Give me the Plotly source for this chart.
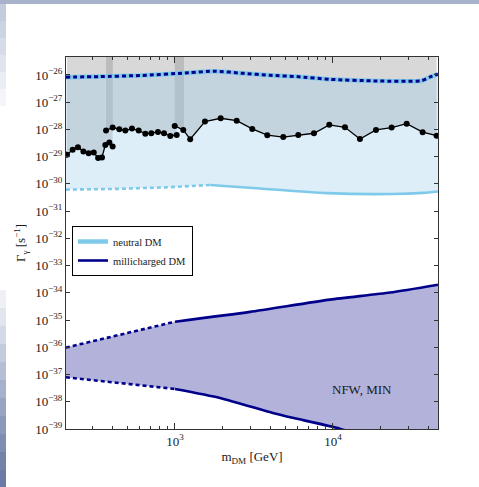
import numpy as np
import plotly.graph_objects as go

# ---------------- data (masses in GeV, rates as log10 Gamma [s^-1]) ----------------
neutral_up_mass = [204, 330, 600, 1220, 1790, 2700, 4000, 5900, 9600, 19000, 36500, 41000, 46200]
neutral_up_logG = [-26.08, -26.06, -26.02, -25.92, -25.86, -25.94, -26.01, -26.06, -26.16, -26.22, -26.21, -26.08, -25.97]

neutral_lo_mass = [204, 449, 930, 1670, 3450, 9160, 24000, 37150, 46200]
neutral_lo_logG = [-30.21, -30.18, -30.12, -30.04, -30.17, -30.34, -30.37, -30.33, -30.28]
neutral_break = 1670

milli_up_mass = [204, 1000, 2983, 9570, 22960, 46200]
milli_up_logG = [-36.01, -35.06, -34.70, -34.25, -33.99, -33.70]
milli_lo_mass = [204, 1000, 1927, 4168, 5580, 11060, 22960, 46200]
milli_lo_logG = [-37.10, -37.53, -37.86, -38.41, -38.59, -38.99, -39.6, -40.2]
milli_break = 1000

seg1_mass = [207, 225, 243, 263, 284, 306, 326, 345, 362, 384, 403]
seg1_logG = [-28.93, -28.75, -28.65, -28.81, -28.87, -28.85, -29.05, -29.03, -28.57, -28.48, -28.63]

seg2_mass = [366, 403, 444, 485, 534, 589, 649, 708, 780, 852, 934, 1025]
seg2_logG = [-28.04, -27.93, -27.99, -28.04, -27.97, -28.04, -28.16, -28.14, -28.09, -28.14, -28.24, -28.20]

seg3_mass = [996, 1128, 1248, 1548, 1946, 2458, 3084, 3839, 4846, 6031, 7581, 9475,
             11910, 14820, 18720, 23520, 29280, 36960, 45320]
seg3_logG = [-27.87, -28.02, -28.36, -27.71, -27.59, -27.68, -27.98, -28.21, -28.28, -28.20,
             -28.14, -27.83, -27.92, -28.35, -28.02, -27.93, -27.79, -28.10, -28.23]

band_lo = [366, 996]
band_hi = [404, 1140]

x_tick_vals = [1e3, 1e4]
x_tick_text = ["10<sup>3</sup>", "10<sup>4</sup>"]
x_minor_vals = [200, 300, 400, 500, 600, 700, 800, 900,
                2000, 3000, 4000, 5000, 6000, 7000, 8000, 9000,
                20000, 30000, 40000]
y_exponents = list(range(-39, -25))
y_tick_vals = [10.0 ** e for e in y_exponents]
y_tick_text = ["10<sup>\u2212%d</sup>" % (-e) for e in y_exponents]

TOP_LOG = -25.0

LIGHT = '#7fcaea'
NAVY = '#00008b'
GRAY = '#d8d8d8'
BLUEFILL = 'rgba(155,206,237,0.34)'
MILLIFILL = '#b2b2db'
TXT = '#1a1a1a'

FONT = 'Liberation Serif'


def pw(v):
    return [10.0 ** x for x in v]


def split_at(mass, logg, brk):
    m = np.array(mass, float)
    g = np.array(logg, float)
    a = m <= brk
    b = m >= brk
    return (m[a], g[a]), (m[b], g[b])


fig = go.Figure()

# gray excluded regions above each data segment
segs = [(seg1_mass, seg1_logG), (seg2_mass, seg2_logG), (seg3_mass, seg3_logG)]
for m, g in segs:
    xs = list(m) + list(m[::-1])
    ys = list(g) + [TOP_LOG] * len(m)
    fig.add_trace(go.Scatter(x=xs, y=pw(ys), fill='toself', fillcolor=GRAY,
                             line=dict(width=0), mode='lines', showlegend=False,
                             hoverinfo='skip'))

# darker overlap bands
band_seg = [segs[1], segs[2]]
for lo, hi, (m, g) in zip(band_lo, band_hi, band_seg):
    xs = np.geomspace(lo, hi, 10)
    ys = np.interp(np.log10(xs), np.log10(m), g)
    px = list(xs) + list(xs[::-1])
    py = list(ys) + [TOP_LOG] * len(xs)
    fig.add_trace(go.Scatter(x=px, y=pw(py), fill='toself', fillcolor='rgba(0,0,0,0.13)',
                             line=dict(width=0), mode='lines', showlegend=False,
                             hoverinfo='skip'))

# neutral DM band fill
fig.add_trace(go.Scatter(x=list(neutral_lo_mass) + list(neutral_up_mass[::-1]),
                         y=pw(list(neutral_lo_logG) + list(neutral_up_logG[::-1])),
                         fill='toself', fillcolor=BLUEFILL, line=dict(width=0),
                         mode='lines', showlegend=False, hoverinfo='skip'))

# millicharged band fill
fig.add_trace(go.Scatter(x=list(milli_lo_mass) + list(milli_up_mass[::-1]),
                         y=pw(list(milli_lo_logG) + list(milli_up_logG[::-1])),
                         fill='toself', fillcolor=MILLIFILL, line=dict(width=0),
                         mode='lines', showlegend=False, hoverinfo='skip'))

# neutral upper edge
fig.add_trace(go.Scatter(x=neutral_up_mass, y=pw(neutral_up_logG), mode='lines',
                         line=dict(color=LIGHT, width=4.5, shape='spline', smoothing=0.6),
                         name='neutral DM', showlegend=True))
fig.add_trace(go.Scatter(x=neutral_up_mass, y=pw(neutral_up_logG), mode='lines',
                         line=dict(color=NAVY, width=3, dash='4px,3px', shape='spline', smoothing=0.6),
                         showlegend=False))

# neutral lower edge
(nm1, ng1), (nm2, ng2) = split_at(neutral_lo_mass, neutral_lo_logG, neutral_break)
fig.add_trace(go.Scatter(x=nm1, y=pw(ng1), mode='lines',
                         line=dict(color=LIGHT, width=2.6, dash='4px,3px'), showlegend=False))
fig.add_trace(go.Scatter(x=nm2, y=pw(ng2), mode='lines',
                         line=dict(color=LIGHT, width=2.6, shape='spline', smoothing=0.6),
                         showlegend=False))

# millicharged edges
(um1, ug1), (um2, ug2) = split_at(milli_up_mass, milli_up_logG, milli_break)
(lm1, lg1), (lm2, lg2) = split_at(milli_lo_mass, milli_lo_logG, milli_break)
fig.add_trace(go.Scatter(x=um1, y=pw(ug1), mode='lines',
                         line=dict(color=NAVY, width=2.6, dash='4px,3px'), showlegend=False))
fig.add_trace(go.Scatter(x=um2, y=pw(ug2), mode='lines',
                         line=dict(color=NAVY, width=2.6, shape='spline', smoothing=0.6),
                         name='millicharged DM', showlegend=True))
fig.add_trace(go.Scatter(x=lm1, y=pw(lg1), mode='lines',
                         line=dict(color=NAVY, width=2.6, dash='4px,3px'), showlegend=False))
fig.add_trace(go.Scatter(x=lm2, y=pw(lg2), mode='lines',
                         line=dict(color=NAVY, width=2.6, shape='spline', smoothing=0.6),
                         showlegend=False))

# data points
for m, g in segs:
    fig.add_trace(go.Scatter(x=m, y=pw(g), mode='lines+markers',
                             line=dict(color='black', width=1.3),
                             marker=dict(color='black', size=6),
                             showlegend=False))

# carrier trace for minor-tick axis
fig.add_trace(go.Scatter(x=neutral_up_mass, y=pw(neutral_up_logG), mode='lines',
                         line=dict(width=0), opacity=0, showlegend=False,
                         hoverinfo='skip', xaxis='x2'))

fig.add_annotation(x=np.log10(15260), y=-37.55, xref='x', yref='y', text='NFW, MIN',
                   showarrow=False, font=dict(family=FONT, size=13, color=TXT))

# background strips (slide frame)
L, R, T, B = 66, 41, 57, 58
W, H = 479 - L - R, 487 - T - B


def pxx(p):
    return (p - L) / W


def pxy(p):
    return (487 - B - p) / H


shapes = [dict(type='rect', xref='paper', yref='paper', x0=pxx(0), x1=pxx(479),
               y0=pxy(4), y1=pxy(0), fillcolor='#a6b3cb', line=dict(width=0), layer='above')]
top_cols = ['#c3cbdd', '#ccd3e3', '#d6dbe8', '#e0e4ee', '#eaedf3', '#f4f5f8']
for i, c in enumerate(top_cols):
    y0 = 4 + i * 17
    shapes.append(dict(type='rect', xref='paper', yref='paper', x0=pxx(0), x1=pxx(6),
                       y0=pxy(y0 + 17), y1=pxy(y0), fillcolor=c, line=dict(width=0), layer='above'))
bot_cols = ['#eef0f5', '#e1e5ee', '#d3d9e6', '#c4cbdd', '#b5bed4', '#a6b1cb', '#97a4c2',
            '#8a98b9', '#7e8db1', '#7283aa', '#6a7ca5']
for i, c in enumerate(bot_cols):
    y0 = 290 + i * 18
    shapes.append(dict(type='rect', xref='paper', yref='paper', x0=pxx(0), x1=pxx(6),
                       y0=pxy(min(y0 + 18, 487)), y1=pxy(y0), fillcolor=c, line=dict(width=0), layer='above'))

fig.update_layout(
    width=479, height=487,
    margin=dict(l=L, r=R, t=T, b=B),
    paper_bgcolor='white', plot_bgcolor='white',
    font=dict(family=FONT, size=13, color=TXT),
    shapes=shapes,
    xaxis=dict(type='log', range=[2.31, 4.665], tickmode='array', tickvals=x_tick_vals,
               ticktext=x_tick_text, ticks='inside', ticklen=6, tickcolor='#333',
               showline=True, linecolor='#333', linewidth=1, mirror='ticks',
               showgrid=False, zeroline=False, tickfont=dict(color=TXT),
               title=dict(text='m<sub>DM</sub> [GeV]', standoff=4, font=dict(size=13, color=TXT))),
    xaxis2=dict(type='log', range=[2.31, 4.665], overlaying='x', side='bottom',
                tickmode='array', tickvals=x_minor_vals, ticks='inside', ticklen=3,
                tickcolor='#333', showticklabels=False, mirror='ticks', showline=False,
                showgrid=False, zeroline=False),
    yaxis=dict(type='log', range=[-39, -25.34], tickmode='array', tickvals=y_tick_vals,
               ticktext=y_tick_text, ticks='inside', ticklen=4, tickcolor='#333',
               showline=True, linecolor='#333', linewidth=1, mirror='ticks',
               showgrid=False, zeroline=False, tickfont=dict(color=TXT),
               title=dict(text='\u0393<sub>\u03b3</sub> [s<sup>\u22121</sup>]', standoff=6,
                          font=dict(size=13, color=TXT))),
    legend=dict(x=pxx(72), y=pxy(226), xanchor='left', yanchor='top',
                bgcolor='white', bordercolor='black', borderwidth=1,
                font=dict(family=FONT, size=10.5, color=TXT), tracegroupgap=0),
)

fig.write_html('out.html', config={'displayModeBar': False},
               post_script="document.body.style.margin='0px';document.body.style.padding='0px';")
